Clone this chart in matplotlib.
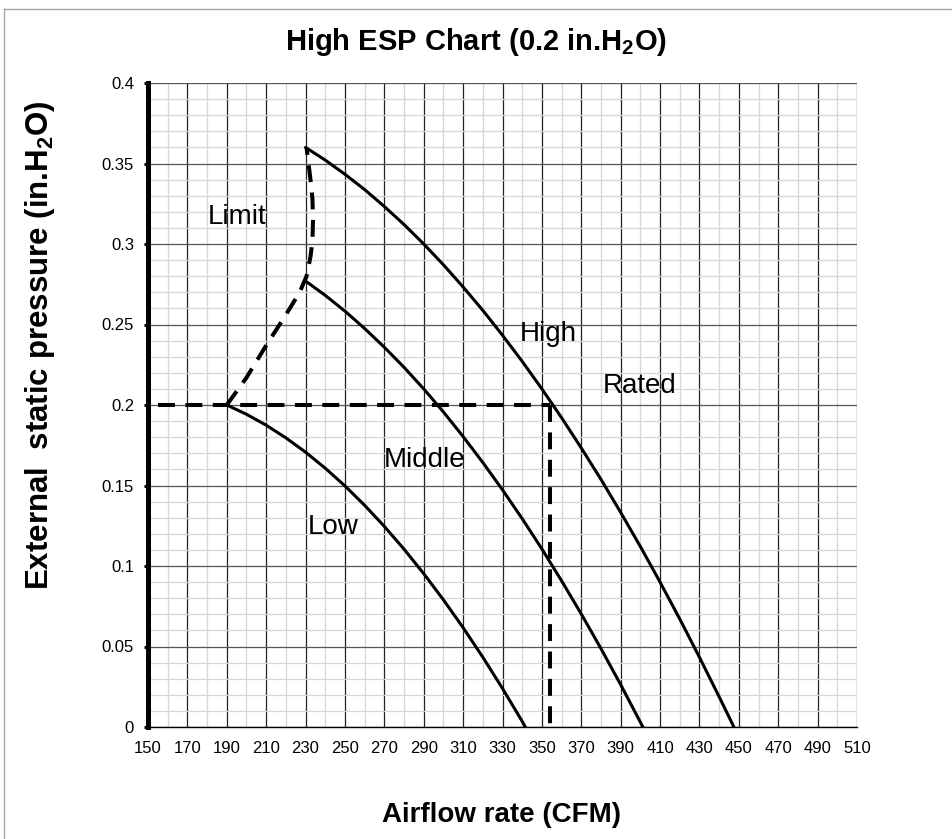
import numpy as np
import matplotlib
matplotlib.use("Agg")
import matplotlib.pyplot as plt
from matplotlib.ticker import FixedLocator
from matplotlib.lines import Line2D

plt.rcParams["font.family"] = ["Liberation Sans", "DejaVu Sans"]
plt.rcParams["mathtext.fontset"] = "custom"
plt.rcParams["mathtext.rm"] = "Liberation Sans"
plt.rcParams["mathtext.bf"] = "Liberation Sans:bold"

# fan curves (CFM, in.H2O)
high_cfm = [230, 240, 250, 260, 270, 280, 290, 300, 310, 320, 330, 340,
            350, 360, 370, 380, 390, 400, 410, 420, 430, 440, 447.5]
high_esp = [0.3600, 0.3521, 0.3433, 0.3338, 0.3233, 0.3121, 0.3000, 0.2871,
            0.2733, 0.2588, 0.2433, 0.2271, 0.2100, 0.1921, 0.1733, 0.1538,
            0.1333, 0.1121, 0.0900, 0.0671, 0.0433, 0.0188, 0.0]

mid_cfm = [230, 240, 250, 260, 270, 280, 290, 300, 310, 320, 330, 340,
           350, 360, 370, 380, 390, 400, 401.3]
mid_esp = [0.2770, 0.2681, 0.2583, 0.2475, 0.2359, 0.2234, 0.2100, 0.1957,
           0.1804, 0.1643, 0.1473, 0.1294, 0.1106, 0.0908, 0.0702, 0.0487,
           0.0263, 0.0030, 0.0]

low_cfm = [190, 200, 210, 220, 230, 240, 250, 260, 270, 280, 290, 300,
           310, 320, 330, 340, 341.6]
low_esp = [0.2000, 0.19425, 0.18745, 0.1796, 0.1707, 0.16075, 0.14975,
           0.1377, 0.1246, 0.11045, 0.09525, 0.0790, 0.0617, 0.04335,
           0.02395, 0.0035, 0.0]

limit_cfm = [190, 200, 210, 220, 227, 230.5, 232.5, 233.5, 233.8, 233.5,
             232.5, 231.5, 230.5]
limit_esp = [0.200, 0.217, 0.237, 0.256, 0.270, 0.280, 0.292, 0.302, 0.315,
             0.328, 0.340, 0.350, 0.360]

rated_cfm = 354
rated_esp = 0.2
axis_start_cfm = 155

x_ticks = list(range(150, 511, 20))
y_ticks = [0, 0.05, 0.1, 0.15, 0.2, 0.25, 0.3, 0.35, 0.4]
y_tick_labels = ["0", "0.05", "0.1", "0.15", "0.2", "0.25", "0.3", "0.35", "0.4"]

curve_labels = [
    ("Limit", 180.1, 0.3122),
    ("High", 338.8, 0.2399),
    ("Rated", 381.1, 0.2076),
    ("Middle", 269.8, 0.1617),
    ("Low", 230.9, 0.1197),
]

W, H = 952, 839
fig = plt.figure(figsize=(W / 100, H / 100), dpi=100)
ax = fig.add_axes([148 / W, 1 - 727 / H, (857 - 148) / W, (727 - 83) / H])

ax.set_xlim(150, 510)
ax.set_ylim(0, 0.4)
ax.xaxis.set_major_locator(FixedLocator(x_ticks))
ax.xaxis.set_minor_locator(FixedLocator(np.arange(150, 511, 10)))
ax.yaxis.set_major_locator(FixedLocator(y_ticks))
ax.yaxis.set_minor_locator(FixedLocator(np.arange(0, 0.401, 0.01)))
ax.set_yticklabels(y_tick_labels)

ax.grid(which="minor", color="#d6d6d6", lw=0.9, zorder=0)
ax.grid(which="major", axis="x", color="#222222", lw=0.9, zorder=1)
ax.grid(which="major", axis="y", color="#555555", lw=0.9, zorder=1)
ax.set_axisbelow(True)

for s in ["top", "right"]:
    ax.spines[s].set_visible(False)
ax.spines["left"].set_linewidth(3.6)
ax.spines["bottom"].set_linewidth(1.0)
ax.tick_params(axis="x", which="both", length=0, pad=10, labelsize=12)
ax.tick_params(axis="y", which="major", length=3, width=2.2, pad=7, labelsize=12)
ax.tick_params(axis="y", which="minor", length=0)

lw = 2.2
for xs, ys in [(high_cfm, high_esp), (mid_cfm, mid_esp), (low_cfm, low_esp)]:
    ax.plot(xs, ys, color="black", lw=lw, zorder=3,
            solid_joinstyle="round", solid_capstyle="round")

dash_kw = dict(color="black", lw=2.9, dashes=(4.2, 2.6), zorder=4)
ax.plot(limit_cfm, limit_esp, **dash_kw)
ax.plot([axis_start_cfm, rated_cfm], [rated_esp, rated_esp], **dash_kw)
ax.plot([rated_cfm, rated_cfm], [rated_esp, 0], **dash_kw)

for txt, x, y in curve_labels:
    ax.text(x, y, txt, fontsize=20, ha="left", va="baseline", zorder=5)

fig.text(0.5, 1 - 42 / H, r"High ESP Chart (0.2 in.H$_\mathbf{2}$O)",
         fontsize=21, fontweight="bold", ha="center", va="center")
fig.text(502 / W, 1 - 815 / H, "Airflow rate (CFM)",
         fontsize=20, fontweight="bold", ha="center", va="center")
fig.text(40 / W, 1 - 590 / H, r"External  static pressure (in.H$_\mathbf{2}$O)",
         fontsize=22.5, fontweight="bold", rotation=90, ha="center", va="bottom")

# chart frame edge
fig.add_artist(Line2D([4 / W, 4 / W], [0, 1 - 9 / H], color="#a6a6a6", lw=1))
fig.add_artist(Line2D([4 / W, 1], [1 - 9 / H, 1 - 9 / H], color="#a6a6a6", lw=1))

fig.savefig("out.png", dpi=100)
